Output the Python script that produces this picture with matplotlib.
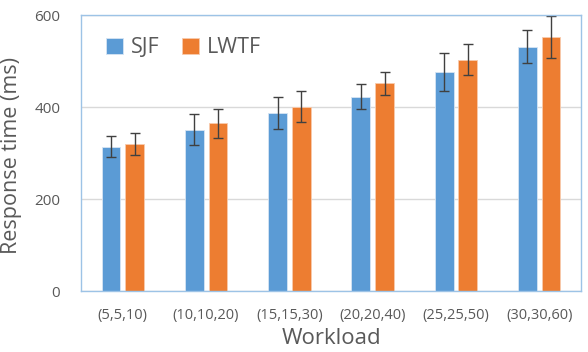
import matplotlib.pyplot as plt
import numpy as np

plt.rcParams['font.family'] = ['Open Sans', 'DejaVu Sans']

# ---------------------------------------
# Data
# ---------------------------------------
workloads = ["(5,5,10)", "(10,10,20)", "(15,15,30)", "(20,20,40)", "(25,25,50)", "(30,30,60)"]
sjf = [314, 351, 387, 423, 476, 531]
lwtf = [320, 365, 401, 452, 503, 552]
sjf_err = [23, 34, 35, 28, 41, 36]
lwtf_err = [24, 32, 33, 25, 34, 46]

BLUE = '#5B9BD5'
ORANGE = '#ED7D31'
TEXT = '#595959'

fig = plt.figure(figsize=(5.88, 3.52), dpi=100)
ax = fig.add_axes([0.138, 0.173, 0.850, 0.784])

x = np.arange(len(workloads))
w = 0.225
off = 0.142
err_kw = dict(ecolor='#404040', elinewidth=1, capsize=3.5, capthick=1)
ax.bar(x - off, sjf, w, yerr=sjf_err, color=BLUE, edgecolor='#D6E4F3', linewidth=0.6,
       label='SJF', error_kw=err_kw, zorder=2)
ax.bar(x + off, lwtf, w, yerr=lwtf_err, color=ORANGE, edgecolor='#F8CBAD', linewidth=0.6,
       label='LWTF', error_kw=err_kw, zorder=2)

ax.set_xlim(-0.5, len(workloads) - 0.5)
ax.set_ylim(0, 600)
ax.set_yticks([0, 200, 400, 600])
ax.yaxis.grid(True, color='#D9D9D9', linewidth=1, zorder=0)
ax.set_axisbelow(True)

ax.set_xticks(x)
ax.set_xticklabels(workloads)
ax.tick_params(axis='both', length=0, colors=TEXT)
ax.tick_params(axis='x', labelsize=10.5, pad=12)
ax.tick_params(axis='y', labelsize=11, pad=15)

for s in ax.spines.values():
    s.set_color('#9DC3E6')
    s.set_linewidth(1)

ax.set_ylabel("Response time (ms)", fontsize=15.5, color=TEXT)
ax.yaxis.set_label_coords(-0.118, 0.49)
ax.set_xlabel("Workload", fontsize=16, color=TEXT, labelpad=4)

ax.legend(loc='upper left', bbox_to_anchor=(0.01, 0.99), ncol=2, frameon=False,
          fontsize=15.5, handlelength=0.8, handleheight=0.8, handletextpad=0.4,
          columnspacing=1.0, labelcolor=TEXT)

plt.savefig("out.png", dpi=100)
